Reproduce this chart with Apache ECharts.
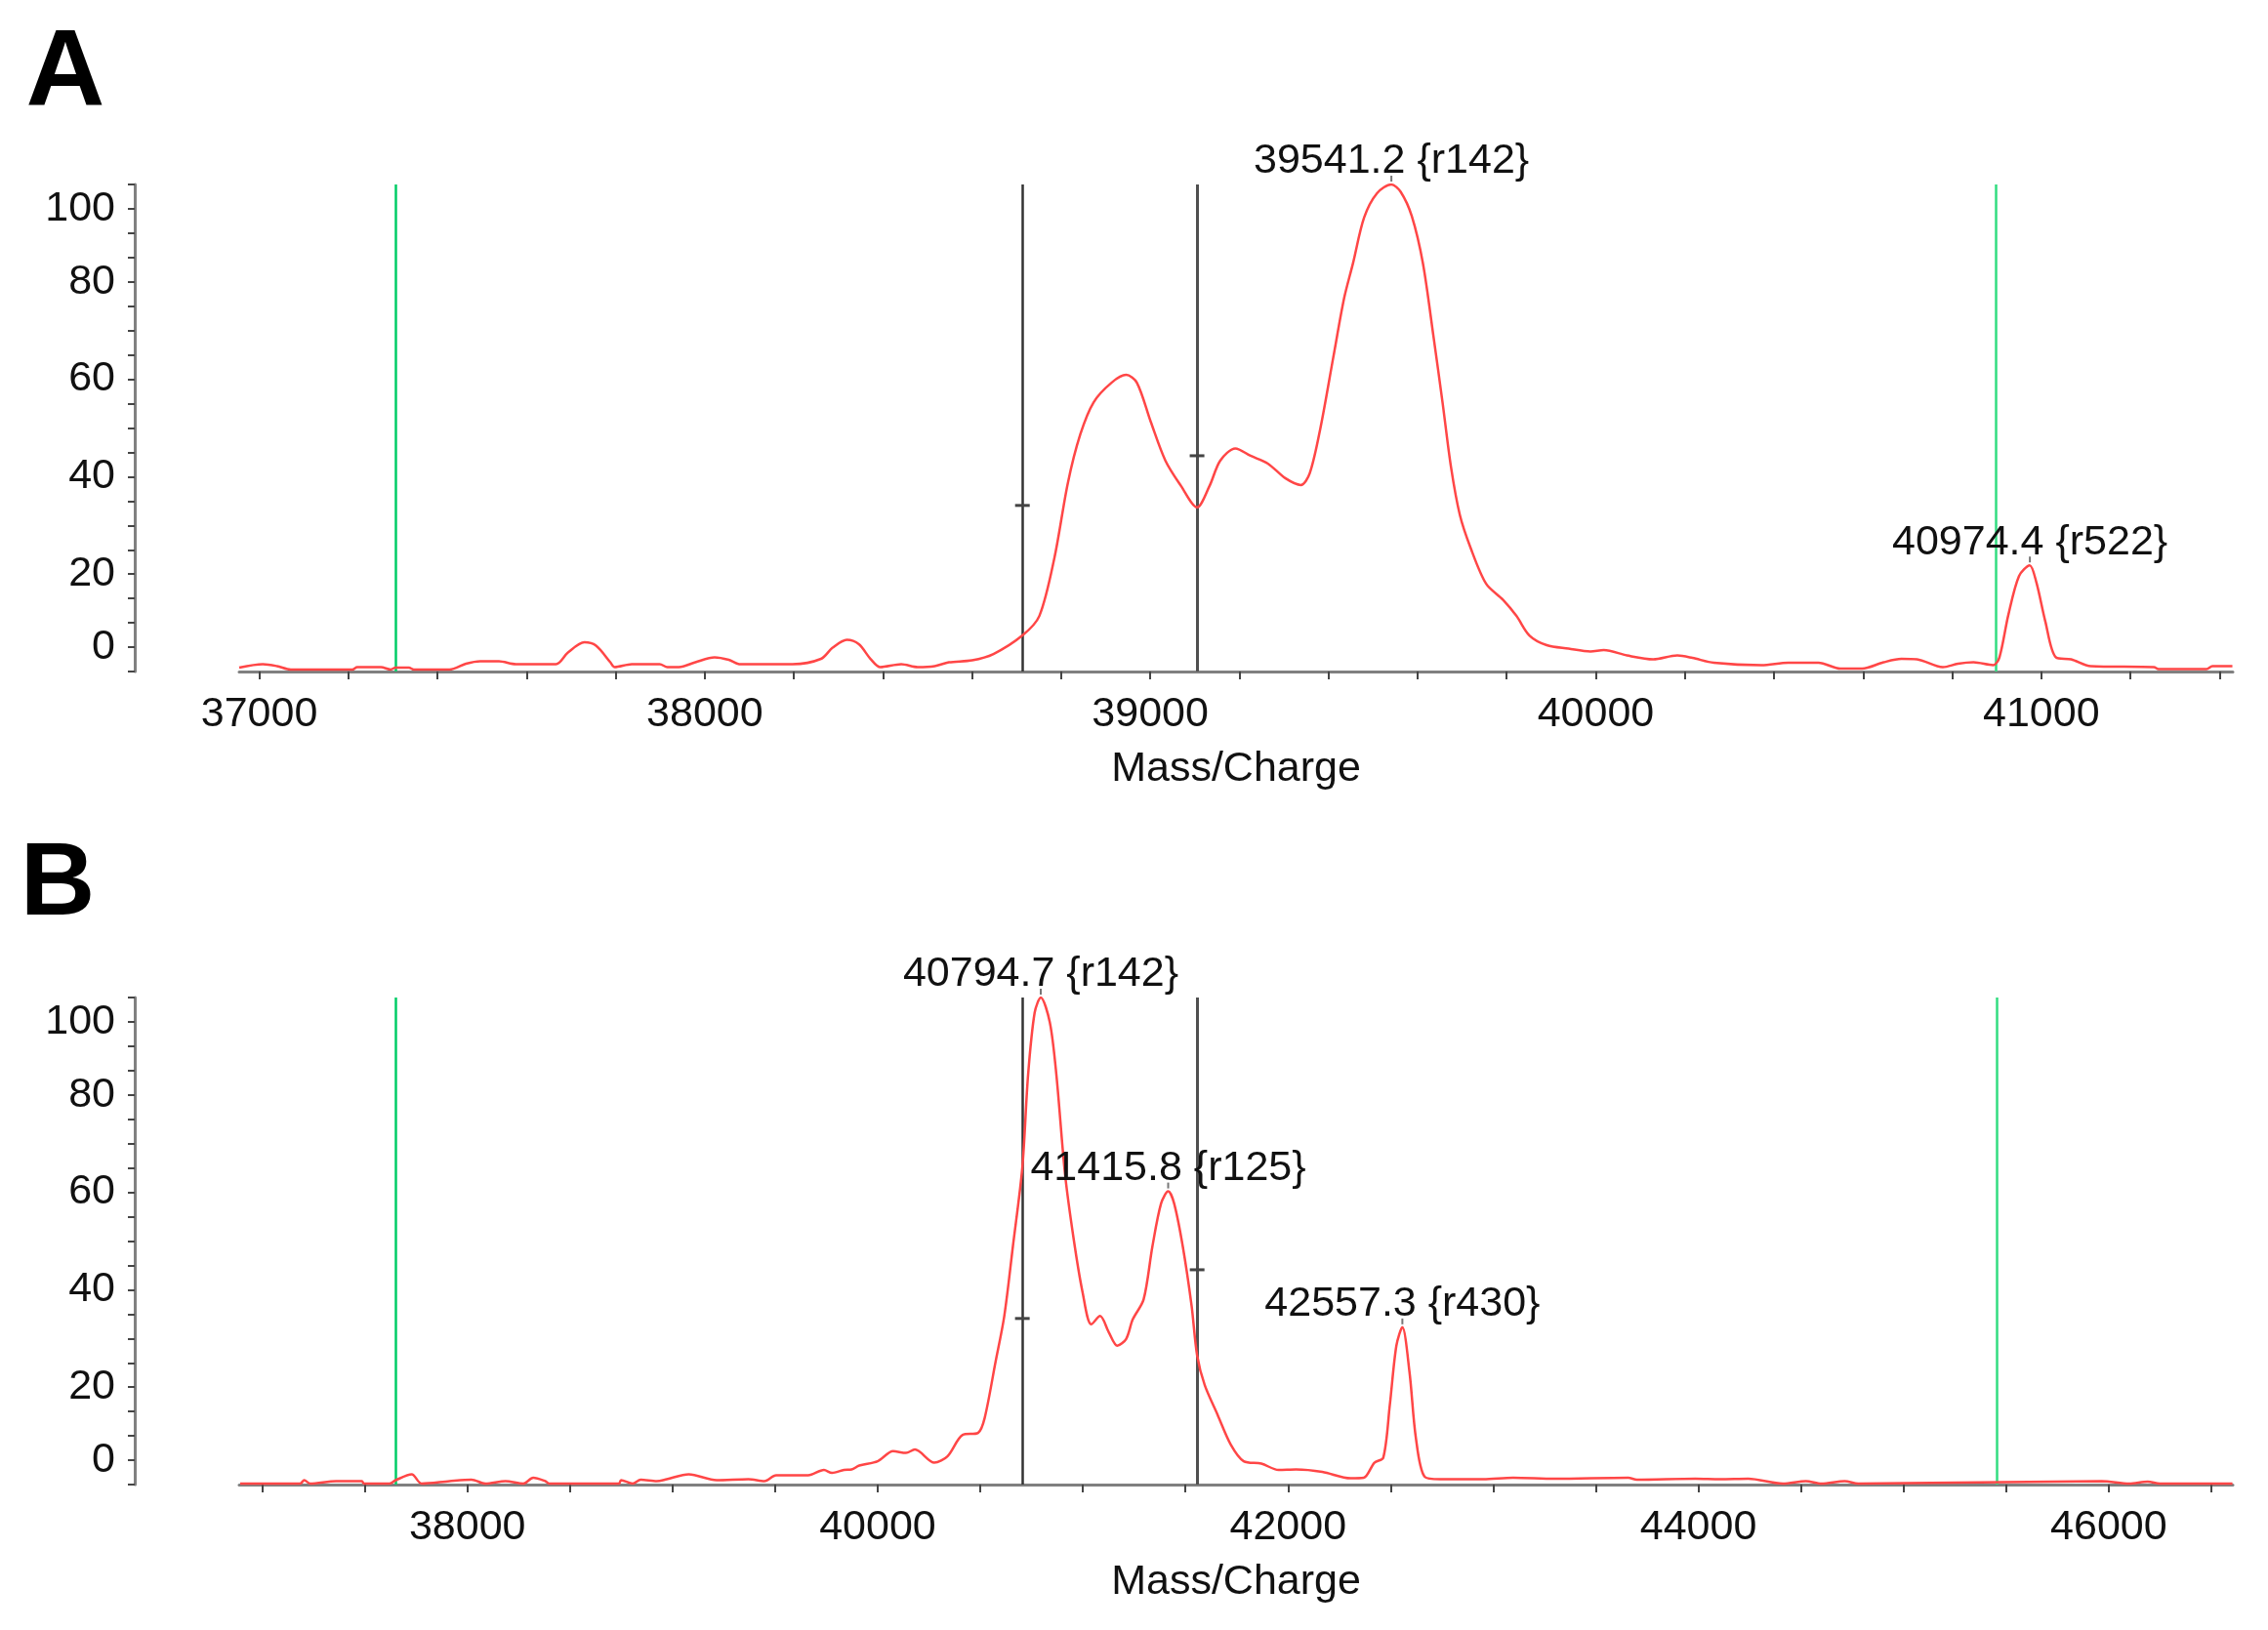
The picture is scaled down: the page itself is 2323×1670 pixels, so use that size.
<!DOCTYPE html>
<html>
<head>
<meta charset="utf-8">
<script src="https://cdn.jsdelivr.net/npm/echarts@6/dist/echarts.min.js"></script>
<style>
  html, body { margin: 0; padding: 0; background: #ffffff; }
  #chart { width: 2323px; height: 1670px; }
</style>
</head>
<body>
<div id="chart"></div>
<script>
// ---------- Panel A spectrum ----------
const A_mz = [36955, 37008, 37040, 37071, 37209, 37220, 37273, 37295, 37306, 37336, 37347, 37427, 37464, 37496, 37538, 37576, 37666, 37693, 37730, 37756, 37788, 37798, 37836, 37899, 37916, 37942, 37979, 38022, 38054, 38080, 38197, 38261, 38287, 38319, 38346, 38372, 38394, 38441, 38478, 38516, 38548, 38600, 38648, 38713, 38751, 38785, 38815, 38843, 38873, 38913, 38946, 38970, 39001, 39034, 39069, 39105, 39133, 39157, 39191, 39225, 39264, 39303, 39338, 39358, 39382, 39411, 39435, 39455, 39480, 39509, 39541, 39562, 39587, 39612, 39636, 39656, 39675, 39695, 39719, 39754, 39792, 39822, 39851, 39890, 39939, 39988, 40018, 40070, 40129, 40183, 40217, 40265, 40372, 40432, 40500, 40549, 40598, 40646, 40686, 40721, 40779, 40813, 40848, 40892, 40906, 40926, 40950, 40974, 40989, 41009, 41033, 41067, 41111, 41253, 41263, 41371, 41384, 41429];
const A_int = [-4.2, -3.5, -3.9, -4.6, -4.6, -4.1, -4.1, -4.6, -4.2, -4.2, -4.6, -4.6, -3.4, -2.9, -2.9, -3.5, -3.5, -1.1, 1.0, 0.3, -3.1, -4.1, -3.5, -3.5, -4.1, -4.1, -3.1, -2.1, -2.6, -3.5, -3.5, -2.4, -0.1, 1.5, 0.6, -2.4, -4.1, -3.5, -4.1, -3.9, -3.1, -2.7, -1.4, 2.4, 6.4, 18.4, 33.7, 43.7, 50.3, 54.3, 55.9, 54.3, 46.3, 38.3, 33.1, 28.7, 33.1, 38.3, 40.8, 39.3, 37.7, 34.7, 33.3, 35.7, 45.0, 59.6, 71.6, 78.8, 88.2, 93.2, 95.0, 93.5, 88.5, 78.8, 63.6, 50.3, 37.0, 27.1, 20.4, 13.0, 9.7, 6.4, 2.4, 0.4, -0.3, -0.9, -0.6, -1.7, -2.5, -1.7, -2.2, -3.2, -3.7, -3.2, -3.2, -4.4, -4.4, -3.1, -2.4, -2.5, -4.1, -3.4, -3.1, -3.7, -2.1, 6.6, 14.6, 16.8, 13.3, 5.3, -2.1, -2.5, -3.9, -4.1, -4.5, -4.5, -3.9, -3.9];

// ---------- Panel B spectrum ----------
const B_mz = [36893, 37185, 37205, 37234, 37360, 37486, 37496, 37621, 37651, 37729, 37777, 37913, 38020, 38088, 38186, 38273, 38321, 38380, 38399, 38739, 38749, 38806, 38845, 38923, 38972, 39079, 39215, 39370, 39448, 39505, 39661, 39738, 39777, 39836, 39873, 39910, 40000, 40075, 40138, 40181, 40276, 40340, 40414, 40489, 40521, 40574, 40617, 40659, 40705, 40733, 40765, 40795, 40839, 40871, 40913, 40956, 40999, 41041, 41084, 41126, 41168, 41211, 41243, 41296, 41339, 41381, 41416, 41445, 41487, 41530, 41557, 41594, 41657, 41721, 41784, 41870, 41954, 42039, 42167, 42305, 42369, 42421, 42464, 42496, 42528, 42557, 42592, 42623, 42666, 42740, 42952, 43097, 43300, 43658, 43700, 43986, 44105, 44243, 44412, 44524, 44600, 44713, 44780, 45966, 46100, 46190, 46250, 46603];
const B_int = [-4.8, -4.8, -4.1, -4.8, -4.3, -4.3, -4.8, -4.8, -4.1, -2.9, -4.8, -4.3, -4.0, -4.8, -4.3, -4.8, -3.6, -4.3, -4.8, -4.8, -4.1, -4.8, -4.0, -4.3, -3.9, -2.9, -4.1, -3.9, -4.3, -3.1, -3.1, -2.0, -2.6, -2.0, -1.9, -1.1, -0.2, 1.85, 1.5, 2.2, -0.5, 0.8, 5.2, 5.6, 8.6, 20.1, 29.6, 43.9, 60.1, 79.1, 91.9, 95.0, 89.9, 79.1, 58.8, 45.2, 34.4, 27.9, 29.6, 26.3, 23.5, 24.9, 28.9, 33.0, 43.9, 52.7, 55.2, 52.7, 43.9, 31.7, 21.5, 15.4, 9.3, 3.2, -0.2, -0.7, -2.0, -1.9, -2.4, -3.7, -3.6, -0.5, 0.5, 11.3, 23.5, 27.3, 18.1, 4.6, -3.4, -3.9, -3.9, -3.6, -3.8, -3.6, -4.0, -3.8, -3.9, -3.8, -4.8, -4.3, -4.8, -4.3, -4.8, -4.3, -4.8, -4.4, -4.8, -4.8];

// ---------- Peak annotations ----------
const A_peak_mz = [39541.2, 40974.4];
const A_peak_int = [95.0, 16.8];
const A_peak_tag = ['{r142}', '{r522}'];
const B_peak_mz = [40794.7, 41415.8, 42557.3];
const B_peak_int = [95.0, 55.2, 27.3];
const B_peak_tag = ['{r142}', '{r125}', '{r430}'];

// ---------- Marker lines ----------
const A_green = [37307, 40899];
const A_black = [38713, 39105];
const A_dash = [29.1, 39.3];
const B_green = [37651, 45454];
const B_black = [40705, 41557];
const B_dash = [29.1, 39.1];

// ---------- Axes ----------
const A_xRange = [36955, 41430];
const B_xRange = [36888, 46605];
const A_xLabels = [37000, 38000, 39000, 40000, 41000];
const B_xLabels = [38000, 40000, 42000, 44000, 46000];
const A_xTickStep = 200;
const B_xTickStep = 500;
const yRange = [-5, 95];
const yTickStep = 5;
const yLabelPos = [0, 15, 35, 55, 75, 90];
const yLabelText = ['0', '20', '40', '60', '80', '100'];
const xName = 'Mass/Charge';

function range(a, b, s) { const r = []; for (let v = a; v <= b + 1e-9; v += s) r.push(v); return r; }

const FONT = 'Liberation Sans, Arial, sans-serif';
const TXT = '#111111';
const AXIS_GRAY = '#808080';
const TICK_GRAY = '#454545';

function xAxisCfg(grid, rng, labels, step) {
  const firstTick = Math.ceil(rng[0] / step) * step;
  return {
    gridIndex: grid, type: 'value', min: rng[0], max: rng[1],
    axisLine: { show: true, onZero: false, lineStyle: { color: AXIS_GRAY, width: 3 } },
    axisTick: { show: true, customValues: range(firstTick, rng[1], step), length: 8, lineStyle: { color: TICK_GRAY, width: 2 } },
    axisLabel: { customValues: labels, formatter: v => String(v), margin: 23, fontSize: 43, color: TXT, fontFamily: FONT },
    splitLine: { show: false },
    name: xName, nameLocation: 'middle', nameGap: 79,
    nameTextStyle: { fontSize: 43, color: TXT, fontFamily: FONT }
  };
}
function yAxisCfg(grid) {
  return {
    gridIndex: grid, type: 'value', min: yRange[0], max: yRange[1], offset: 107,
    axisLine: { show: true, lineStyle: { color: AXIS_GRAY, width: 3 } },
    axisTick: { show: true, customValues: range(yRange[0], yRange[1], yTickStep), length: 7, lineStyle: { color: TICK_GRAY, width: 2 } },
    axisLabel: { customValues: yLabelPos, formatter: v => yLabelText[yLabelPos.indexOf(v)], margin: 20, padding: [11, 0, 0, 0], fontSize: 43, color: TXT, fontFamily: FONT },
    splitLine: { show: false }
  };
}

function spectrum(idx, mz, inten, green, black) {
  return {
    type: 'line', xAxisIndex: idx, yAxisIndex: idx,
    data: mz.map((x, i) => [x, inten[i]]),
    showSymbol: false, smooth: 0.3,
    lineStyle: { color: '#ff4646', width: 2.5 },
    z: 5,
    markLine: {
      silent: true, symbol: 'none', label: { show: false }, animation: false,
      data: [
        { xAxis: green[0], lineStyle: { color: '#00cc66', width: 2.5, type: 'solid' } },
        { xAxis: green[1], lineStyle: { color: '#33dd80', width: 2.5, type: 'solid' } },
        { xAxis: black[0], lineStyle: { color: '#333333', width: 2.5, type: 'solid' } },
        { xAxis: black[1], lineStyle: { color: '#505050', width: 3, type: 'solid' } }
      ]
    }
  };
}
function dashes(idx, black, dash) {
  return {
    type: 'scatter', xAxisIndex: idx, yAxisIndex: idx,
    data: black.map((x, i) => [x, dash[i]]),
    symbol: 'rect', symbolSize: [15, 3],
    itemStyle: { color: '#444', opacity: 1 }, z: 6, silent: true
  };
}
function peaks(idx, mz, inten, tag) {
  return {
    type: 'scatter', xAxisIndex: idx, yAxisIndex: idx,
    data: mz.map((x, i) => ({ value: [x, inten[i]], tag: tag[i] })),
    symbol: 'rect', symbolSize: [2, 6], symbolOffset: [0, -6],
    itemStyle: { color: '#777', opacity: 1 }, z: 8, silent: true,
    label: {
      show: true, position: 'top', distance: -7,
      formatter: p => p.value[0].toFixed(1) + ' ' + p.data.tag,
      fontSize: 43, color: TXT, fontFamily: FONT, opacity: 1
    }
  };
}

const chart = echarts.init(document.getElementById('chart'), null, { renderer: 'canvas' });
chart.setOption({
  animation: false,
  backgroundColor: '#ffffff',
  grid: [
    { left: 245, right: 36, top: 189, height: 499 },
    { left: 245, right: 36, top: 1022, height: 499 }
  ],
  xAxis: [xAxisCfg(0, A_xRange, A_xLabels, A_xTickStep), xAxisCfg(1, B_xRange, B_xLabels, B_xTickStep)],
  yAxis: [yAxisCfg(0), yAxisCfg(1)],
  graphic: [
    { type: 'text', x: 67, y: 77, style: { text: 'A', fontSize: 112, fontWeight: 'bold', fontFamily: FONT, fill: '#000', textAlign: 'center', textVerticalAlign: 'middle' } },
    { type: 'text', x: 59, y: 908, style: { text: 'B', fontSize: 106, fontWeight: 'bold', fontFamily: FONT, fill: '#000', textAlign: 'center', textVerticalAlign: 'middle' } }
  ],
  series: [
    spectrum(0, A_mz, A_int, A_green, A_black),
    spectrum(1, B_mz, B_int, B_green, B_black),
    dashes(0, A_black, A_dash),
    dashes(1, B_black, B_dash),
    peaks(0, A_peak_mz, A_peak_int, A_peak_tag),
    peaks(1, B_peak_mz, B_peak_int, B_peak_tag)
  ]
});
</script>
</body>
</html>
